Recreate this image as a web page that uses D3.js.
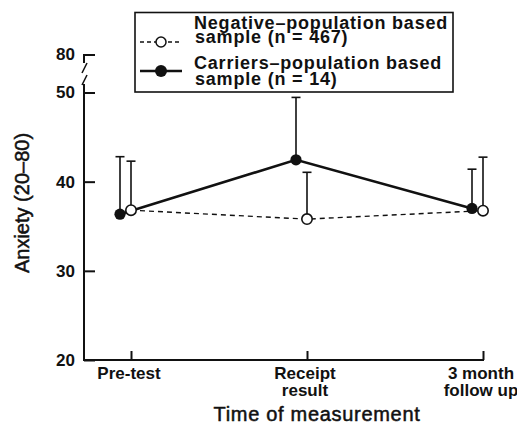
<!DOCTYPE html>
<html>
<head>
<meta charset="utf-8">
<script src="https://cdn.jsdelivr.net/npm/d3@7"></script>
<style>
  html, body { margin: 0; padding: 0; background: #fff; }
</style>
</head>
<body>
<script>
const categories = [["Pre-test"], ["Receipt", "result"], ["3 month", "follow up"]];
const categoryKeys = ["pre", "receipt", "followup"];

// means and upper ends of the (one-sided) error bars
const negativeMeans = [36.8, 35.8, 36.75];
const negativeUpper = [42.3, 41.05, 42.75];
const carrierMeans = [36.35, 42.45, 37.0];
const carrierUpper = [42.8, 49.45, 41.4];

const yTicks = [20, 30, 40, 50];
const breakTick = 80;

const width = 517;
const height = 438;
const font = "'Liberation Sans', Arial, Helvetica, sans-serif";
const ink = "#111";

const svg = d3.select("body")
  .append("svg")
  .attr("width", width)
  .attr("height", height)
  .attr("viewBox", `0 0 ${width} ${height}`);

svg.append("rect").attr("width", width).attr("height", height).attr("fill", "#fff");

const axisX = 84;
const x = d3.scalePoint().domain(categoryKeys).range([131, 483]);
const y = d3.scaleLinear().domain([20, 50]).range([360, 92.5]);
const breakY = 55;
const carrierShift = -11;

// y axis ticks and labels
svg.append("g")
  .attr("transform", `translate(${axisX},0)`)
  .call(d3.axisLeft(y).tickValues(yTicks).tickSizeInner(-11).tickSizeOuter(0).tickPadding(9))
  .call((g) => g.select(".domain").remove())
  .call((g) => g.selectAll(".tick line").attr("stroke", ink).attr("stroke-width", 2))
  .call((g) => g.selectAll("text")
    .attr("fill", ink)
    .attr("font-family", font)
    .attr("font-size", 17)
    .attr("font-weight", 700));

// broken axis line
const axisLine = svg.append("g").attr("stroke", ink).attr("stroke-width", 2).attr("fill", "none");
axisLine.append("path").attr("d", `M${axisX},${y(20) + 1}V84`);
axisLine.append("path").attr("d", `M${axisX + 3},75L${axisX - 2},85`).attr("stroke-width", 1.5);
axisLine.append("path").attr("d", `M${axisX + 11},${breakY}H${axisX}V63`);
axisLine.append("path").attr("d", `M${axisX + 3},63L${axisX - 2},73`).attr("stroke-width", 1.5);

svg.append("text")
  .attr("x", axisX - 9)
  .attr("y", breakY)
  .attr("dy", "0.32em")
  .attr("text-anchor", "end")
  .attr("fill", ink)
  .attr("font-family", font)
  .attr("font-size", 17)
  .attr("font-weight", 700)
  .text(breakTick);

// x axis
svg.append("path")
  .attr("d", `M${axisX - 1},${y(20)}H${x("followup") + 1}`)
  .attr("stroke", ink)
  .attr("stroke-width", 2)
  .attr("fill", "none");

svg.append("g")
  .attr("transform", `translate(0,${y(20)})`)
  .call(d3.axisBottom(x).tickSizeInner(-9).tickSizeOuter(0).tickFormat(""))
  .call((g) => g.select(".domain").remove())
  .call((g) => g.selectAll(".tick line").attr("stroke", ink).attr("stroke-width", 2));

const xLabels = svg.append("g")
  .selectAll("text")
  .data(categoryKeys)
  .join("text")
  .attr("x", (d) => x(d) - 2)
  .attr("y", 379)
  .attr("text-anchor", "middle")
  .attr("fill", ink)
  .attr("font-family", font)
  .attr("font-size", 17)
  .attr("font-weight", 700);

xLabels.each(function (d, i) {
  d3.select(this)
    .selectAll("tspan")
    .data(categories[i])
    .join("tspan")
    .attr("x", x(d) - 2)
    .attr("dy", (t, j) => (j === 0 ? 0 : 16.5))
    .text((t) => t);
});

// axis titles (regular face, thickened a little like the printed original)
svg.append("text")
  .attr("x", 317)
  .attr("y", 421)
  .attr("text-anchor", "middle")
  .attr("fill", ink)
  .attr("stroke", ink)
  .attr("stroke-width", 0.5)
  .attr("font-family", font)
  .attr("font-size", 20)
  .attr("letter-spacing", 0.7)
  .text("Time of measurement");

svg.append("text")
  .attr("transform", "translate(29,203) rotate(-90)")
  .attr("text-anchor", "middle")
  .attr("fill", ink)
  .attr("stroke", ink)
  .attr("stroke-width", 0.5)
  .attr("font-family", font)
  .attr("font-size", 20)
  .text("Anxiety (20–80)");

// series
const negative = categoryKeys.map((k, i) => ({ key: k, mean: negativeMeans[i], upper: negativeUpper[i], dx: 0 }));
const carriers = categoryKeys.map((k, i) => ({ key: k, mean: carrierMeans[i], upper: carrierUpper[i], dx: carrierShift }));

const line = d3.line().x((d) => x(d.key) + d.dx).y((d) => y(d.mean));

function errorBars(data) {
  const g = svg.append("g").attr("stroke", ink).attr("stroke-width", 1.6);
  g.selectAll("line.v")
    .data(data)
    .join("line")
    .attr("class", "v")
    .attr("x1", (d) => x(d.key) + d.dx)
    .attr("x2", (d) => x(d.key) + d.dx)
    .attr("y1", (d) => y(d.mean))
    .attr("y2", (d) => y(d.upper));
  g.selectAll("line.c")
    .data(data)
    .join("line")
    .attr("class", "c")
    .attr("x1", (d) => x(d.key) + d.dx - 4.5)
    .attr("x2", (d) => x(d.key) + d.dx + 4.5)
    .attr("y1", (d) => y(d.upper))
    .attr("y2", (d) => y(d.upper));
}

errorBars(negative);
errorBars(carriers);

svg.append("path")
  .datum(negative)
  .attr("d", line)
  .attr("fill", "none")
  .attr("stroke", ink)
  .attr("stroke-width", 1.4)
  .attr("stroke-dasharray", "5,4");

svg.append("path")
  .datum(carriers)
  .attr("d", line)
  .attr("fill", "none")
  .attr("stroke", ink)
  .attr("stroke-width", 2.6);

svg.append("g")
  .selectAll("circle")
  .data(carriers)
  .join("circle")
  .attr("cx", (d) => x(d.key) + d.dx)
  .attr("cy", (d) => y(d.mean))
  .attr("r", 5.6)
  .attr("fill", ink);

svg.append("g")
  .selectAll("circle")
  .data(negative)
  .join("circle")
  .attr("cx", (d) => x(d.key) + d.dx)
  .attr("cy", (d) => y(d.mean))
  .attr("r", 5.2)
  .attr("fill", "#fff")
  .attr("stroke", ink)
  .attr("stroke-width", 1.6);

// legend
const legend = svg.append("g");
legend.append("rect")
  .attr("x", 135)
  .attr("y", 12.5)
  .attr("width", 318)
  .attr("height", 79.5)
  .attr("fill", "#fff")
  .attr("stroke", ink)
  .attr("stroke-width", 1.6);

legend.append("line")
  .attr("x1", 140).attr("x2", 181).attr("y1", 42).attr("y2", 42)
  .attr("stroke", ink).attr("stroke-width", 1.3).attr("stroke-dasharray", "4,3");
legend.append("circle")
  .attr("cx", 161).attr("cy", 42).attr("r", 5)
  .attr("fill", "#fff").attr("stroke", ink).attr("stroke-width", 1.5);
legend.append("line")
  .attr("x1", 140).attr("x2", 182).attr("y1", 71).attr("y2", 71)
  .attr("stroke", ink).attr("stroke-width", 2.6);
legend.append("circle")
  .attr("cx", 161).attr("cy", 71).attr("r", 6)
  .attr("fill", ink);

const legendLines = [
  { text: "Negative–population based", x: 194, y: 29 },
  { text: "sample (n = 467)", x: 195, y: 42.5 },
  { text: "Carriers–population based", x: 194, y: 69 },
  { text: "sample (n = 14)", x: 195, y: 84.5 },
];

legend.selectAll("text")
  .data(legendLines)
  .join("text")
  .attr("x", (d) => d.x)
  .attr("y", (d) => d.y)
  .attr("fill", ink)
  .attr("font-family", font)
  .attr("font-size", 18)
  .attr("font-weight", 700)
  .attr("letter-spacing", 0.8)
  .text((d) => d.text);
</script>
</body>
</html>
